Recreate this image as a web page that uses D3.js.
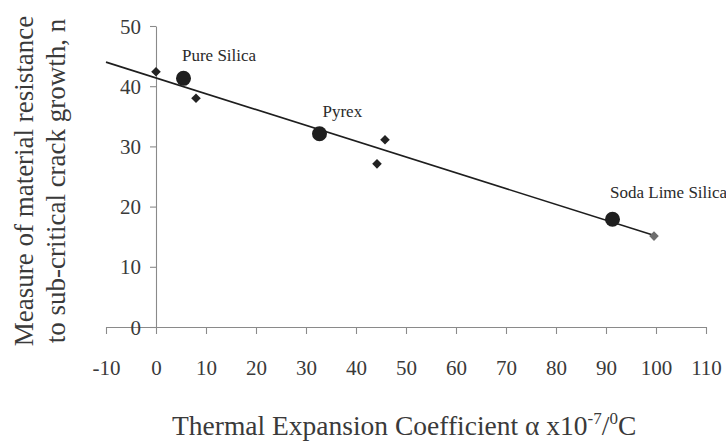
<!DOCTYPE html>
<html>
<head>
<meta charset="utf-8">
<script src="https://cdn.jsdelivr.net/npm/d3@7"></script>
<style>
  html, body { margin: 0; padding: 0; background: #fff; }
  svg { display: block; }
  svg text { font-family: "Liberation Serif", "DejaVu Serif", serif; }
</style>
</head>
<body>
<svg id="chart" width="726" height="443" font-family="Liberation Serif"></svg>
<script>
// ---- data ----
const xTicks = [-10, 0, 10, 20, 30, 40, 50, 60, 70, 80, 90, 100, 110];
const yTicks = [0, 10, 20, 30, 40, 50];

// measured samples (diamonds)
const sampleX = [0, 8, 44.2, 45.8, 99.6];
const sampleY = [42.4, 38.0, 27.1, 31.1, 15.1];

// named glasses (large circles)
const glassNames = ["Pure Silica", "Pyrex", "Soda Lime Silica"];
const glassX = [5.5, 32.7, 91.3];
const glassY = [41.3, 32.1, 17.9];

// linear trend line end points
const trendX = [-10, 100];
const trendY = [44.0, 15.1];

const yTitleLines = ["Measure of material resistance", "to sub-critical crack growth, n"];

// ---- styling / layout ----
const labelOffsets = [[-1.5, -17.7], [3, -16.5], [-2.5, -21]];
const serif = "'Liberation Serif', 'Times New Roman', serif";

const svg = d3.select("#chart");
const x = d3.scaleLinear().domain([-10, 110]).range([106, 706]);
const y = d3.scaleLinear().domain([0, 50]).range([327, 26]);

const axisColor = "#8a8a8a";
const textColor = "#3a3a3a";
const fmt = d => String(d); // plain hyphen for negatives

// X axis
const xAxis = svg.append("g")
  .attr("transform", `translate(0,${y(0)})`)
  .call(d3.axisBottom(x).tickValues(xTicks).tickSize(7).tickSizeOuter(0).tickFormat(fmt));
xAxis.attr("font-family", serif).attr("font-size", 21);
xAxis.select(".domain").attr("stroke", axisColor).attr("stroke-width", 1.2);
xAxis.selectAll(".tick line").attr("stroke", axisColor).attr("stroke-width", 1.1);
xAxis.selectAll(".tick text")
  .attr("y", 48).attr("dy", 0)
  .attr("fill", textColor)
  .style("font-size", "21px")
  .style("font-family", serif);

// Y axis
const yAxis = svg.append("g")
  .attr("transform", `translate(${x(0)},0)`)
  .call(d3.axisLeft(y).tickValues(yTicks).tickSize(6).tickSizeOuter(0).tickPadding(9).tickFormat(fmt));
yAxis.attr("font-family", serif).attr("font-size", 21);
yAxis.select(".domain").attr("stroke", axisColor).attr("stroke-width", 1.1);
yAxis.selectAll(".tick line").attr("stroke", axisColor).attr("stroke-width", 1.1);
yAxis.selectAll(".tick text")
  .attr("dy", "0.34em")
  .attr("fill", textColor)
  .style("font-size", "21px")
  .style("font-family", serif);

// Trend line
const trend = trendX.map((d, i) => [d, trendY[i]]);
svg.append("path")
  .datum(trend)
  .attr("fill", "none")
  .attr("stroke", "#1e1e1e")
  .attr("stroke-width", 1.6)
  .attr("d", d3.line().x(d => x(d[0])).y(d => y(d[1])));

// Diamonds
const diamond = d3.symbol().type(d3.symbolSquare).size(46);
svg.append("g").selectAll("path")
  .data(sampleX.map((d, i) => ({ x: d, y: sampleY[i], i })))
  .join("path")
  .attr("d", diamond)
  .attr("transform", d => `translate(${x(d.x)},${y(d.y)}) rotate(45)`)
  .attr("fill", d => (d.i === sampleX.length - 1) ? "#6e6e6e" : "#222");

// Circles
svg.append("g").selectAll("circle")
  .data(glassX.map((d, i) => ({ x: d, y: glassY[i] })))
  .join("circle")
  .attr("cx", d => x(d.x))
  .attr("cy", d => y(d.y))
  .attr("r", 7.5)
  .attr("fill", "#1f1f1f");

// Glass labels
svg.append("g").selectAll("text")
  .data(glassNames.map((n, i) => ({ n, x: glassX[i], y: glassY[i], o: labelOffsets[i] })))
  .join("text")
  .attr("x", d => x(d.x) + d.o[0])
  .attr("y", d => y(d.y) + d.o[1])
  .attr("fill", "#2a2a2a")
  .style("font-family", serif)
  .style("font-size", "17px")
  .text(d => d.n);

// Y axis title (two lines, rotated)
const yTitle = svg.append("text")
  .attr("transform", "translate(33,181) rotate(-90)")
  .attr("text-anchor", "middle")
  .attr("fill", textColor)
  .style("font-family", serif)
  .style("font-size", "27px");
yTitle.append("tspan").attr("x", 0).attr("y", 0).text(yTitleLines[0]);
yTitle.append("tspan").attr("x", 0).attr("y", 32).text(yTitleLines[1]);

// X axis title
const xTitle = svg.append("text")
  .attr("x", 172)
  .attr("y", 435)
  .attr("fill", textColor)
  .style("font-family", serif)
  .style("font-size", "27.5px");
xTitle.append("tspan").text("Thermal Expansion Coefficient \u03B1 x10");
xTitle.append("tspan").attr("dy", -11).style("font-size", "17px").text("-7");
xTitle.append("tspan").attr("dy", 11).text("/");
xTitle.append("tspan").attr("dy", -11).style("font-size", "17px").text("0");
xTitle.append("tspan").attr("dy", 11).text("C");
</script>
</body>
</html>
